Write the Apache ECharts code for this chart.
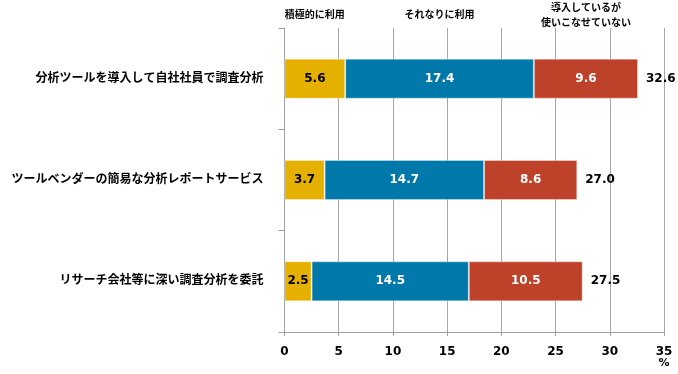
<!DOCTYPE html>
<html><head><meta charset="utf-8">
<script src="https://cdn.jsdelivr.net/npm/echarts@6/dist/echarts.min.js"></script>
<style>html,body{margin:0;padding:0;background:#fff}#c{width:678px;height:374px}</style>
</head><body><div id="c"></div>
<script>
var categories = ['分析ツールを導入して自社社員で調査分析', 'ツールベンダーの簡易な分析レポートサービス', 'リサーチ会社等に深い調査分析を委託'];
var seriesNames = ['積極的に利用', 'それなりに利用', '導入しているが\n使いこなせていない'];
var active = [5.6, 3.7, 2.5];
var moderate = [17.4, 14.7, 14.5];
var unused = [9.6, 8.6, 10.5];
var totals = [32.6, 27.0, 27.5];
var xTicks = [0, 35, 5];

var FONT = '"DejaVu Sans", "Noto Sans CJK JP", sans-serif';
var colors = ['#E6B000', '#0079AA', '#BE4129'];
var labelColors = ['#000', '#fff', '#fff'];
var values = [active, moderate, unused];

var chart = echarts.init(document.getElementById('c'), null, {renderer: 'canvas'});
var series = values.map(function (arr, i) {
  var mid = 0;
  for (var k = 0; k < i; k++) mid += values[k][0];
  mid += arr[0] / 2;
  return {
    name: seriesNames[i], type: 'bar', stack: 's', data: arr, barWidth: 40,
    itemStyle: {color: colors[i], borderColor: 'rgba(255,255,255,0.35)', borderWidth: 1},
    label: {show: true, position: 'inside', color: labelColors[i], fontFamily: FONT, fontWeight: 'bold', fontSize: 12,
      formatter: function (p) { return p.value.toFixed(1); }},
    markPoint: {
      symbol: 'rect', symbolSize: 0,
      data: [{coord: [mid, 0], value: seriesNames[i]}],
      label: {show: true, position: 'inside', offset: [0, -63], formatter: seriesNames[i], color: '#000',
        fontFamily: FONT, fontWeight: 'bold', fontSize: 10, lineHeight: 15, align: 'center'}
    }
  };
});
series.push({
  name: 'total', type: 'bar', stack: 's', data: totals.map(function () { return 0; }), barWidth: 40,
  itemStyle: {color: 'transparent'},
  label: {show: true, position: 'right', distance: 8, color: '#000', fontFamily: FONT, fontWeight: 'bold', fontSize: 12,
    formatter: function (p) { return totals[p.dataIndex].toFixed(1); }}
});

chart.setOption({
  animation: false,
  grid: {left: 284.5, right: 14, top: 28, bottom: 42, containLabel: false},
  xAxis: {
    type: 'value', min: xTicks[0], max: xTicks[1], interval: xTicks[2],
    name: '%', nameLocation: 'end', nameGap: 0,
    nameTextStyle: {color: '#000', fontFamily: FONT, fontWeight: 'bold', fontSize: 11, align: 'center', verticalAlign: 'top', padding: [26, 0, 0, 0]},
    axisLine: {show: true, lineStyle: {color: '#A0A0A0', width: 1}},
    axisTick: {show: true, length: 4, lineStyle: {color: '#A0A0A0'}},
    splitLine: {show: true, lineStyle: {color: '#A6A6A6', width: 1}},
    axisLabel: {color: '#000', fontFamily: FONT, fontWeight: 'bold', fontSize: 12, margin: 14}
  },
  yAxis: {
    type: 'category', data: categories, inverse: true,
    axisLine: {show: true, lineStyle: {color: '#A0A0A0', width: 1}},
    axisTick: {show: true, length: 6, lineStyle: {color: '#A0A0A0'}},
    axisLabel: {color: '#000', fontFamily: FONT, fontWeight: 'bold', fontSize: 12, margin: 21}
  },
  series: series
});
</script></body></html>
